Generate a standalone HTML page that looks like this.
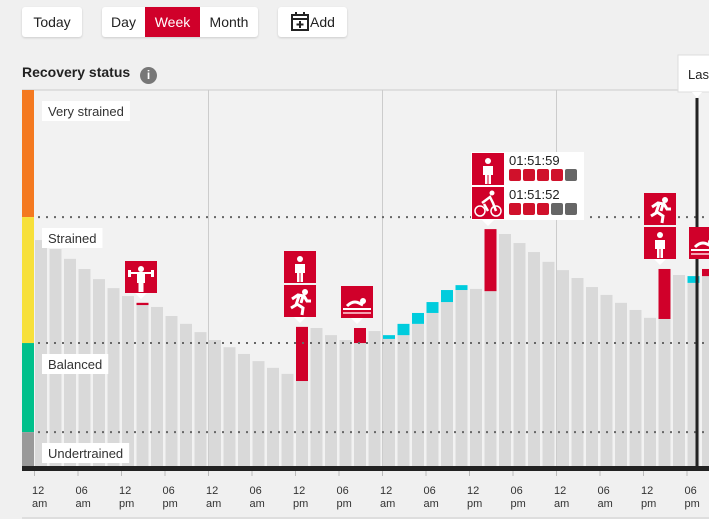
<!DOCTYPE html>
<html><head><meta charset="utf-8">
<style>
body{margin:0;width:709px;height:519px;background:#f0f0f0;font-family:"Liberation Sans",sans-serif;overflow:hidden;position:relative}
.btn{position:absolute;top:7px;height:30px;background:#fff;border-radius:3px;box-shadow:0 1px 2px rgba(0,0,0,.15);font-size:14px;color:#222;line-height:30px;text-align:center}
.seg{display:inline-block;height:30px;vertical-align:top}
#title{position:absolute;left:22px;top:64px;font-weight:bold;font-size:14px;color:#222}
</style></head><body>
<div class="btn" style="left:22px;width:60px">Today</div>
<div class="btn" style="left:102px;width:156px;overflow:hidden;text-align:left">
<span class="seg" style="width:43px;text-align:center">Day</span><span class="seg" style="width:55px;background:#d0002a;color:#fff;text-align:center">Week</span><span class="seg" style="width:58px;text-align:center">Month</span></div>
<div class="btn" style="left:278px;width:69px"><svg width="20" height="20" viewBox="0 0 20 20" style="vertical-align:-4px"><rect x="2" y="4" width="16" height="15" fill="none" stroke="#222" stroke-width="2"/><line x1="2" y1="8" x2="18" y2="8" stroke="#222" stroke-width="2"/><line x1="6" y1="1" x2="6" y2="5" stroke="#222" stroke-width="2"/><line x1="14" y1="1" x2="14" y2="5" stroke="#222" stroke-width="2"/><line x1="10" y1="10" x2="10" y2="17" stroke="#222" stroke-width="2"/><line x1="6.5" y1="13.5" x2="13.5" y2="13.5" stroke="#222" stroke-width="2"/></svg>Add</div>
<div id="title">Recovery status <span style="display:inline-block;width:17px;height:17px;border-radius:50%;background:#777;color:#fff;font-size:12px;text-align:center;line-height:17px;margin-left:6px;vertical-align:-2px">i</span></div>
<svg id="chart" width="709" height="519" style="position:absolute;left:0;top:0"></svg>
<script>
const baseVals=[60.1,57.7,55.1,52.4,49.7,47.3,45.2,42.8,42.3,39.9,37.8,35.6,33.5,31.6,29.8,27.9,26.1,24.5,22.6,36.7,34.8,33.5,32.7,35.9,33.8,34.8,37.8,40.7,43.6,46.8,47.1,46.5,61.7,59.3,56.9,54.3,52.1,50.0,47.6,45.5,43.4,41.5,39.4,39.1,50.8,48.7,50.5];
const topVals=[0,0,0,0,0,0,0,43.4,0,0,0,0,0,0,0,0,0,0,37.0,0,0,0,36.7,0,34.8,37.8,40.7,43.6,46.8,48.1,0,63.0,0,0,0,0,0,0,0,0,0,0,0,52.4,0,50.5,52.4];
const zoneNames=["Very strained","Strained","Balanced","Undertrained"];
const zoneBounds=[100,66.2,32.7,9.0,0];
const zoneColors=["#f47920","#f7e03a","#00c08b","#999999"];
const tickTop=["12","06","12","06","12","06","12","06","12","06","12","06","12","06","12","06"];
const tickBot=["am","am","pm","pm","am","am","pm","pm","am","am","pm","pm","am","am","pm","pm"];
const svg=document.getElementById('chart');const NS="http://www.w3.org/2000/svg";
function el(t,a,p){const e=document.createElementNS(NS,t);for(const k in a)e.setAttribute(k,a[k]);(p||svg).appendChild(e);return e;}
const X0=34,X1=709,Y0=90,Y1=466;
const y=v=>Y1-(v/100)*(Y1-Y0);
const step=14.5,bw=12;
const bx=i=>35+i*step;
const tx=i=>34+i*43.5;
let r=el('rect',{x:X0,y:Y0,width:X1-X0,height:Y1-Y0,fill:'#f2f2f2'});

el('line',{x1:22,y1:Y0,x2:709,y2:Y0,stroke:'#ccc'});
[4,8,12].forEach(i=>{const l=el('line',{x1:tx(i)+.5,y1:Y0,x2:tx(i)+.5,y2:Y1,stroke:'#ccc'});});
for(let z=0;z<4;z++){const b=el('rect',{x:22,y:y(zoneBounds[z]),width:12,height:y(zoneBounds[z+1])-y(zoneBounds[z]),fill:zoneColors[z]});
}
baseVals.forEach((v,i)=>{
 const b=el('rect',{x:bx(i),y:y(v),width:bw,height:Y1-y(v),fill:'#d9d9d9'});
 
 if(topVals[i]>v){const red=[7,18,22,31,43,46].includes(i);
  const c=el('rect',{x:bx(i),y:y(topVals[i]),width:bw,height:y(v)-y(topVals[i]),fill:red?'#d0002a':'#00ccdd'});
  }
});
for(let z=1;z<4;z++){const l=el('line',{x1:X0+4,y1:y(zoneBounds[z]),x2:X1,y2:y(zoneBounds[z]),stroke:'#666','stroke-width':2,'stroke-dasharray':'2 6'});
}
const lblY=[111,238,364,453];
zoneNames.forEach((n,z)=>{
 const g=el('g',{});
 const bg=el('rect',{x:42,y:lblY[z]-10,width:60,height:20,fill:'#fff'},g);
 const t=el('text',{x:48,y:lblY[z]+5,'font-size':13,fill:'#333'},g);t.textContent=n;
 bg.setAttribute('width',t.getComputedTextLength()+12);});
el('rect',{x:22,y:466,width:687,height:5,fill:'#222'});
tickTop.forEach((s,i)=>{const x=tx(i);
 el('line',{x1:x+.5,y1:471,x2:x+.5,y2:476,stroke:'#bbb'});
 const t=el('text',{x:x-2,y:494,'font-size':11,fill:'#333'});t.textContent=s;
 const t2=el('text',{x:x-2,y:507,'font-size':11,fill:'#333'});t2.textContent=tickBot[i];});
el('line',{x1:22,y1:518,x2:709,y2:518,stroke:'#ccc'});
el('line',{x1:697,y1:98,x2:697,y2:466,stroke:'#222','stroke-width':3});
const tip=el('g',{});
el('rect',{x:678,y:55,width:40,height:37,fill:'#fff',stroke:'#ddd'},tip);
el('path',{d:'M692 92 L697 98 L702 92 Z',fill:'#fff'},tip);
el('text',{x:688,y:79,'font-size':13,fill:'#222'},tip).textContent='Last';
const person='<circle cx="16" cy="8" r="3" fill="#fff"/><path d="M11 13h10v9h-2v9h-2.5v-9h-1v9H13v-9h-2z" fill="#fff"/>';
const run='<circle cx="21" cy="7" r="3" fill="#fff"/><path d="M8 14l6-4 6 1 3 5 4 0M15 11l-3 9-5 3M13 19l6 4-1 7M19 11l-2 7" stroke="#fff" stroke-width="3" fill="none"/>';
const weights='<circle cx="16" cy="8" r="3" fill="#fff"/><path d="M4 12h24M13 13h6v8h-1.5v9h-3v-9H13z" stroke="#fff" stroke-width="2" fill="#fff"/><rect x="3" y="9" width="3" height="7" fill="#fff"/><rect x="26" y="9" width="3" height="7" fill="#fff"/>';
const swim='<circle cx="22" cy="15" r="3" fill="#fff"/><path d="M6 20c4-4 8-5 12-3l4 2" stroke="#fff" stroke-width="3" fill="none"/><rect x="2" y="22" width="28" height="2" fill="#fff"/><rect x="2" y="26" width="28" height="2" fill="#f5a0b0"/>';
const bike='<circle cx="20" cy="6" r="2.5" fill="#fff"/><circle cx="8" cy="24" r="5" stroke="#fff" stroke-width="1.5" fill="none"/><circle cx="24" cy="24" r="5" stroke="#fff" stroke-width="1.5" fill="none"/><path d="M10 16l8-6 3 6 3 8M12 17l4 7" stroke="#fff" stroke-width="2.5" fill="none"/>';
function icon(x,yy,g,name,arrow){const gr=el('g',{transform:`translate(${x},${yy})`});
 
 el('rect',{x:0,y:0,width:32,height:32,fill:'#d0002a'},gr);
 if(arrow)el('path',{d:'M10 32l6 6 6-6z',fill:'#fff'},gr);
 gr.insertAdjacentHTML('beforeend',g);}
icon(125,261,weights,'strength-icon',true);
icon(284,251,person,'other-sport-icon',false);
icon(284,285,run,'running-icon',true);
icon(341,286,swim,'swimming-icon',true);
icon(644,193,run,'running-icon',false);
icon(644,227,person,'other-sport-icon',true);
icon(689,227,swim,'swimming-icon',false);
const tt=el('g',{});
el('rect',{x:471,y:152,width:113,height:68,fill:'#fff'},tt);
el('path',{d:'M482 220l6 6 6-6z',fill:'#fff'},tt);
const times=["01:51:59","01:51:52"];const fills=[4,3];
times.forEach((s,k)=>{const yy=153+k*34;
 el('rect',{x:472,y:yy,width:32,height:32,fill:'#d0002a'},tt);
 const g=el('g',{transform:`translate(472,${yy})`},tt);g.insertAdjacentHTML('beforeend',k?bike:person);
 el('text',{x:509,y:yy+12,'font-size':13,fill:'#222'},tt).textContent=s;
 for(let j=0;j<5;j++)el('rect',{x:509+j*14,y:yy+16,width:12,height:12,rx:2,fill:j<fills[k]?'#d0112b':'#666'},tt);});
</script>
</body></html>
